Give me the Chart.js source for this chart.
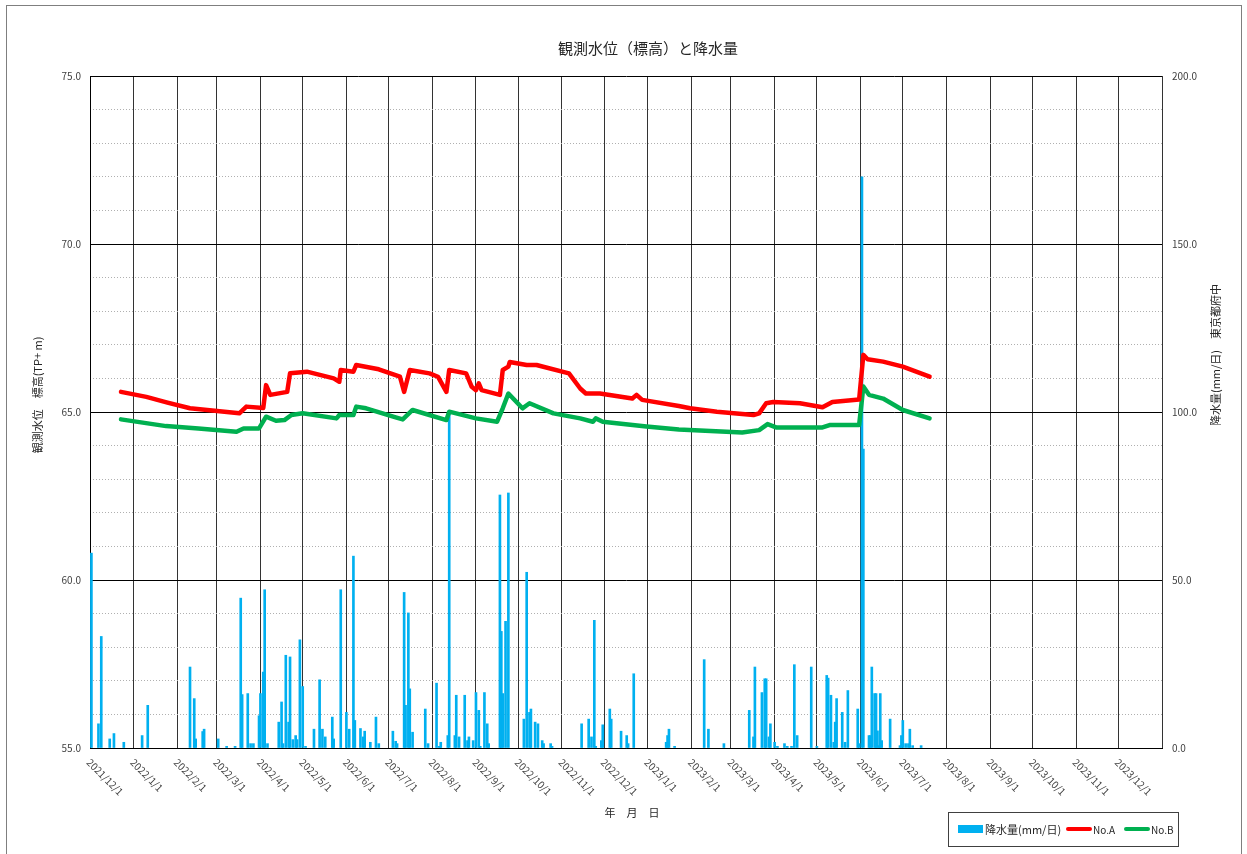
<!DOCTYPE html>
<html lang="ja">
<head>
<meta charset="utf-8">
<title>観測水位（標高）と降水量</title>
<script src="https://cdn.jsdelivr.net/npm/chart.js@4.4.0/dist/chart.umd.min.js"></script>
<style>
  html, body { margin: 0; padding: 0; background: #fff; }
  #wrap { position: relative; width: 1247px; height: 854px; overflow: hidden; }
  #frame { position: absolute; left: 6px; top: 5px; width: 1234px; height: 900px; border: 1px solid #7f7f7f; }
  #chart { position: absolute; left: 0; top: 0; }
</style>
</head>
<body>
<div id="wrap">
  <div id="frame"></div>
  <canvas id="chart" width="1247" height="854"></canvas>
</div>
<script>
// Axis range and month ticks
const startDate = '2021/12/1';
const endDate = '2024/1/1';
const monthLabels = [
  '2021/12/1', '2022/1/1', '2022/2/1', '2022/3/1', '2022/4/1', '2022/5/1', '2022/6/1',
  '2022/7/1', '2022/8/1', '2022/9/1', '2022/10/1', '2022/11/1', '2022/12/1',
  '2023/1/1', '2023/2/1', '2023/3/1', '2023/4/1', '2023/5/1', '2023/6/1',
  '2023/7/1', '2023/8/1', '2023/9/1', '2023/10/1', '2023/11/1', '2023/12/1'
];

// No.A water level (TP+ m)
const datesA = [
  '2021/12/23', '2022/1/10', '2022/1/25', '2022/2/10', '2022/3/17', '2022/3/22', '2022/4/3', '2022/4/5',
  '2022/4/8', '2022/4/20', '2022/4/22', '2022/5/4', '2022/5/23', '2022/5/27', '2022/5/28', '2022/6/6',
  '2022/6/8', '2022/6/24', '2022/7/9', '2022/7/10', '2022/7/12', '2022/7/16', '2022/7/30', '2022/8/5',
  '2022/8/11', '2022/8/13', '2022/8/25', '2022/8/29', '2022/9/1', '2022/9/3', '2022/9/5', '2022/9/18',
  '2022/9/20', '2022/9/24', '2022/9/25', '2022/10/7', '2022/10/14', '2022/11/6', '2022/11/14', '2022/11/18',
  '2022/11/28', '2022/12/21', '2022/12/24', '2022/12/28', '2023/1/23', '2023/1/31', '2023/2/19', '2023/3/17',
  '2023/3/21', '2023/3/26', '2023/3/31', '2023/4/19', '2023/5/5', '2023/5/12', '2023/5/31', '2023/6/3',
  '2023/6/6', '2023/6/17', '2023/7/1', '2023/7/20'
];
const levelsA = [
  65.60, 65.45, 65.28, 65.11, 64.96, 65.16, 65.12, 65.80,
  65.51, 65.60, 66.15, 66.20, 66.00, 65.90, 66.25, 66.20,
  66.40, 66.27, 66.05, 65.90, 65.60, 66.25, 66.15, 66.05,
  65.60, 66.25, 66.15, 65.75, 65.65, 65.85, 65.65, 65.51,
  66.25, 66.35, 66.49, 66.40, 66.40, 66.15, 65.70, 65.55,
  65.55, 65.40, 65.51, 65.36, 65.18, 65.11, 65.01, 64.91,
  64.96, 65.26, 65.30, 65.26, 65.14, 65.30, 65.37, 66.70,
  66.57, 66.50, 66.35, 66.05
];

// No.B water level (TP+ m)
const datesB = [
  '2021/12/23', '2022/1/24', '2022/2/16', '2022/3/15', '2022/3/20', '2022/3/31', '2022/4/5', '2022/4/12',
  '2022/4/18', '2022/4/23', '2022/5/1', '2022/5/25', '2022/5/27', '2022/6/6', '2022/6/8', '2022/6/15',
  '2022/7/6', '2022/7/11', '2022/7/18', '2022/8/11', '2022/8/13', '2022/9/1', '2022/9/16', '2022/9/20',
  '2022/9/24', '2022/10/4', '2022/10/9', '2022/10/26', '2022/11/14', '2022/11/23', '2022/11/25', '2022/11/30',
  '2022/12/31', '2023/1/23', '2023/3/9', '2023/3/21', '2023/3/27', '2023/4/2', '2023/5/5', '2023/5/10',
  '2023/5/31', '2023/6/3', '2023/6/7', '2023/6/17', '2023/7/1', '2023/7/20'
];
const levelsB = [
  64.78, 64.58, 64.51, 64.41, 64.51, 64.51, 64.86, 64.74,
  64.76, 64.91, 64.96, 64.81, 64.91, 64.91, 65.16, 65.11,
  64.84, 64.78, 65.06, 64.76, 65.01, 64.81, 64.71, 65.11,
  65.55, 65.11, 65.26, 64.96, 64.81, 64.71, 64.81, 64.71,
  64.57, 64.48, 64.39, 64.46, 64.64, 64.54, 64.54, 64.61,
  64.61, 65.76, 65.51, 65.40, 65.06, 64.81
];

// Daily rainfall (mm/day), days without rain left out
const rainDates = [
  '2021/12/2', '2021/12/7', '2021/12/9', '2021/12/15', '2021/12/18', '2021/12/25',
  '2022/1/7', '2022/1/11',
  '2022/2/10', '2022/2/13', '2022/2/14', '2022/2/19', '2022/2/20',
  '2022/3/2', '2022/3/8', '2022/3/14', '2022/3/18', '2022/3/19', '2022/3/23', '2022/3/25', '2022/3/27', '2022/3/31',
  '2022/4/1', '2022/4/3', '2022/4/4', '2022/4/6', '2022/4/14', '2022/4/16', '2022/4/17', '2022/4/19',
  '2022/4/21', '2022/4/22', '2022/4/24', '2022/4/26', '2022/4/27', '2022/4/29',
  '2022/5/1', '2022/5/3', '2022/5/9', '2022/5/13', '2022/5/15', '2022/5/17', '2022/5/22', '2022/5/23', '2022/5/28',
  '2022/6/1', '2022/6/3', '2022/6/6', '2022/6/7', '2022/6/11', '2022/6/13', '2022/6/14', '2022/6/18', '2022/6/22', '2022/6/24',
  '2022/7/4', '2022/7/6', '2022/7/7', '2022/7/12', '2022/7/13', '2022/7/15', '2022/7/16', '2022/7/18', '2022/7/27', '2022/7/29',
  '2022/8/4', '2022/8/6', '2022/8/7', '2022/8/12', '2022/8/13', '2022/8/17', '2022/8/18', '2022/8/20', '2022/8/24',
  '2022/8/26', '2022/8/27', '2022/8/30',
  '2022/9/1', '2022/9/3', '2022/9/4', '2022/9/7', '2022/9/9', '2022/9/10', '2022/9/18', '2022/9/19', '2022/9/20',
  '2022/9/22', '2022/9/24',
  '2022/10/5', '2022/10/7', '2022/10/9', '2022/10/10', '2022/10/13', '2022/10/15', '2022/10/18', '2022/10/19',
  '2022/10/24', '2022/10/25',
  '2022/11/15', '2022/11/20', '2022/11/22', '2022/11/24', '2022/11/25', '2022/11/29', '2022/11/30',
  '2022/12/5', '2022/12/6', '2022/12/13', '2022/12/17', '2022/12/18', '2022/12/22',
  '2023/1/14', '2023/1/15', '2023/1/16', '2023/1/20',
  '2023/2/10', '2023/2/13', '2023/2/24',
  '2023/3/14', '2023/3/17', '2023/3/18', '2023/3/23', '2023/3/25', '2023/3/26', '2023/3/28', '2023/3/29',
  '2023/4/1', '2023/4/3', '2023/4/8', '2023/4/10', '2023/4/13', '2023/4/15', '2023/4/17', '2023/4/27',
  '2023/5/1', '2023/5/8', '2023/5/9', '2023/5/11', '2023/5/13', '2023/5/14', '2023/5/15', '2023/5/19',
  '2023/5/21', '2023/5/23', '2023/5/30', '2023/5/31',
  '2023/6/2', '2023/6/3', '2023/6/7', '2023/6/8', '2023/6/9', '2023/6/11', '2023/6/12', '2023/6/13',
  '2023/6/14', '2023/6/15', '2023/6/16', '2023/6/22', '2023/6/29', '2023/6/30',
  '2023/7/1', '2023/7/3', '2023/7/5', '2023/7/6', '2023/7/8', '2023/7/14'
];
const rainValues = [
  58.0, 7.2, 33.2, 2.7, 4.3, 1.7,
  3.7, 12.7,
  24.1, 14.7, 2.7, 4.9, 5.6,
  2.7, 0.5, 0.5, 44.6, 15.9, 16.2, 1.3, 1.3, 9.6,
  16.2, 22.6, 47.1, 1.3, 7.7, 13.7, 1.3, 27.6,
  7.7, 27.1, 2.5, 3.7, 2.5, 32.2,
  18.3, 0.5, 5.6, 20.3, 5.6, 3.3, 9.2, 2.7, 47.1,
  10.6, 5.6, 57.1, 8.2, 5.8, 3.3, 5.0, 1.7, 9.2, 1.3,
  5.0, 2.0, 1.3, 46.3, 12.7, 40.2, 17.6, 4.7, 11.6, 1.3,
  19.3, 0.5, 1.7, 3.7, 100.0, 3.7, 15.7, 3.3, 15.7,
  2.2, 3.3, 2.2,
  16.5, 11.2, 0.5, 16.5, 7.2, 1.3, 75.3, 34.7, 16.2,
  37.7, 75.9,
  8.6, 52.3, 10.6, 11.6, 7.7, 7.2, 2.2, 1.3,
  1.3, 0.5,
  7.2, 8.6, 3.3, 38.0, 0.5, 2.2, 6.9,
  11.6, 8.6, 5.0, 3.7, 1.3, 22.1,
  1.7, 3.7, 5.6, 0.5,
  26.3, 5.6, 1.3,
  11.2, 3.3, 24.1, 16.5, 20.6, 20.6, 3.3, 7.2,
  1.7, 0.5, 1.3, 0.5, 0.5, 24.8, 3.7, 24.1,
  0.5, 21.6, 20.8, 15.7, 1.7, 7.7, 14.7, 10.6,
  1.7, 17.1, 11.6, 1.3,
  170.0, 89.0, 3.7, 3.7, 24.1, 16.2, 16.2, 5.1,
  0.7, 16.2, 2.2, 8.6, 0.7, 3.7,
  8.2, 1.3, 1.3, 5.6, 0.7, 0.7
];

const FONT = '"Noto Sans CJK JP", "Noto Sans", sans-serif';

// Days since the start of the axis
function dayOf(s) {
    const [y, m, d] = s.split('/').map(Number);
    const [y0, m0, d0] = startDate.split('/').map(Number);
    return (Date.UTC(y, m - 1, d) - Date.UTC(y0, m0 - 1, d0)) / 86400000;
}

function toPoints(dates, values) {
    return dates.map((d, i) => ({ x: dayOf(d), y: values[i] }));
}

const tickDays = monthLabels.map(dayOf).concat([dayOf(endDate)]);

// Titles, rotated date labels and legend box
const decorations = {
    id: 'decorations',
    afterDraw(chart) {
        const ctx = chart.ctx;
        const xs = chart.scales.x;
        ctx.save();
        ctx.fillStyle = '#262626';

        // Title
        ctx.font = '15px ' + FONT;
        ctx.textAlign = 'center';
        ctx.textBaseline = 'middle';
        ctx.fillText('観測水位（標高）と降水量', 648, 48);

        // Axis titles
        ctx.font = '11px ' + FONT;
        ctx.fillText('年　月　日', 632, 813);
        ctx.save();
        ctx.translate(38, 395);
        ctx.rotate(-Math.PI / 2);
        ctx.fillText('観測水位　標高(TP+ m)', 0, 0);
        ctx.restore();
        ctx.save();
        ctx.translate(1216, 355);
        ctx.rotate(-Math.PI / 2);
        ctx.fillText('降水量(mm/日)　東京都府中', 0, 0);
        ctx.restore();

        // Date labels, slanted down to the right
        ctx.font = '10px ' + FONT;
        ctx.fillStyle = '#404040';
        ctx.textAlign = 'left';
        ctx.textBaseline = 'top';
        monthLabels.forEach(lbl => {
            const px = xs.getPixelForValue(dayOf(lbl));
            ctx.save();
            ctx.translate(px + 2, xs.bottom - 97);
            ctx.rotate(Math.PI / 4);
            ctx.fillText(lbl, 0, 0);
            ctx.restore();
        });

        // Legend
        ctx.strokeStyle = '#404040';
        ctx.lineWidth = 1;
        ctx.strokeRect(948.5, 812.5, 230, 34);
        const ds = chart.data.datasets;
        const items = [
            { x: 958, w: 25, tx: 985 },
            { x: 1066, w: 26, tx: 1093 },
            { x: 1124, w: 26, tx: 1151 }
        ];
        ctx.textBaseline = 'middle';
        ds.forEach((d, i) => {
            const it = items[i];
            if (d.type === 'bar') {
                ctx.fillStyle = d.backgroundColor;
                ctx.fillRect(it.x, 825, it.w, 8);
                ctx.font = '11px ' + FONT;
            } else {
                ctx.strokeStyle = d.borderColor;
                ctx.lineWidth = 4;
                ctx.lineCap = 'round';
                ctx.beginPath();
                ctx.moveTo(it.x + 2, 829);
                ctx.lineTo(it.x + it.w - 2, 829);
                ctx.stroke();
                ctx.font = '10px ' + FONT;
            }
            ctx.fillStyle = '#262626';
            ctx.fillText(d.label, it.tx, 830);
        });
        ctx.restore();
    }
};

const chart = new Chart(document.getElementById('chart'), {
    type: 'bar',
    data: {
        datasets: [
            {
                type: 'bar',
                label: '降水量(mm/日)',
                data: toPoints(rainDates, rainValues),
                backgroundColor: '#00b0f0',
                barThickness: 2,
                yAxisID: 'y2',
                order: 2
            },
            {
                type: 'line',
                label: 'No.A',
                data: toPoints(datesA, levelsA),
                borderColor: '#ff0000',
                borderWidth: 4.5,
                borderJoinStyle: 'round',
                borderCapStyle: 'round',
                pointRadius: 0,
                tension: 0,
                yAxisID: 'y',
                order: 1
            },
            {
                type: 'line',
                label: 'No.B',
                data: toPoints(datesB, levelsB),
                borderColor: '#00b050',
                borderWidth: 4.5,
                borderJoinStyle: 'round',
                borderCapStyle: 'round',
                pointRadius: 0,
                tension: 0,
                yAxisID: 'y',
                order: 1
            }
        ]
    },
    options: {
        responsive: false,
        animation: false,
        layout: { padding: { top: 76, left: 0, right: 0, bottom: 0 } },
        plugins: {
            legend: { display: false },
            title: { display: false },
            tooltip: { enabled: false }
        },
        scales: {
            x: {
                type: 'linear',
                min: 0,
                max: dayOf(endDate),
                offset: false,
                afterBuildTicks: s => { s.ticks = tickDays.map(v => ({ value: v })); },
                afterFit: s => { s.height = 106; },
                ticks: { display: false },
                grid: { color: '#333', lineWidth: 1, drawTicks: false, offset: false },
                border: { color: '#000', width: 1 }
            },
            y: {
                position: 'left',
                min: 55,
                max: 75,
                afterFit: s => { s.width = 90; },
                ticks: {
                    stepSize: 5,
                    padding: 9,
                    color: '#404040',
                    font: { family: FONT, size: 10 },
                    callback: v => v.toFixed(1)
                },
                grid: { color: '#000', lineWidth: 1, drawTicks: false },
                border: { color: '#000', width: 1 }
            },
            y2: {
                position: 'right',
                min: 0,
                max: 200,
                afterFit: s => { s.width = 85; },
                ticks: {
                    stepSize: 10,
                    padding: 10,
                    color: '#404040',
                    font: { family: FONT, size: 10 },
                    callback: v => (v % 50 === 0 ? v.toFixed(1) : '')
                },
                grid: {
                    color: c => (c.tick && c.tick.value % 50 === 0 ? 'rgba(0,0,0,0)' : '#b0b0b0'),
                    lineWidth: 1,
                    drawTicks: false
                },
                border: { display: false, dash: [1, 2] }
            }
        }
    },
    plugins: [decorations]
});
</script>
</body>
</html>
